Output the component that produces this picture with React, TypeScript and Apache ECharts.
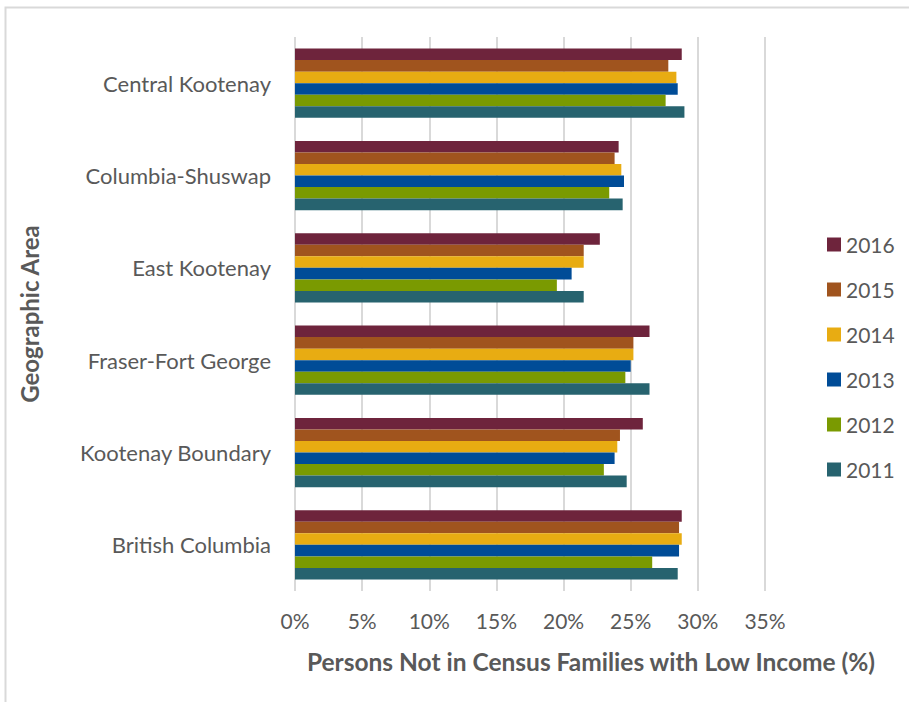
import React, { useEffect, useRef } from "react";
import * as echarts from "echarts";

const categories = [
  "Central Kootenay",
  "Columbia-Shuswap",
  "East Kootenay",
  "Fraser-Fort George",
  "Kootenay Boundary",
  "British Columbia",
];

const years = ["2016", "2015", "2014", "2013", "2012", "2011"];

const v2016 = [28.8, 24.1, 22.7, 26.4, 25.9, 28.8];
const v2015 = [27.8, 23.8, 21.5, 25.2, 24.2, 28.6];
const v2014 = [28.4, 24.3, 21.5, 25.2, 24.0, 28.8];
const v2013 = [28.5, 24.5, 20.6, 25.0, 23.8, 28.6];
const v2012 = [27.6, 23.4, 19.5, 24.6, 23.0, 26.6];
const v2011 = [29.0, 24.4, 21.5, 26.4, 24.7, 28.5];

const seriesValues = [v2016, v2015, v2014, v2013, v2012, v2011];
const colors = ["#6e243c", "#a0541e", "#e8ac12", "#004c97", "#7a9a01", "#27636f"];

const xTicks = { min: 0, max: 35, interval: 5 };

const FONT = "Lato, 'Open Sans', sans-serif";
const TEXT = "#595959";

export default function App() {
  const ref = useRef<HTMLDivElement>(null);
  useEffect(() => {
    if (!ref.current) return;
    const chart = echarts.init(ref.current, null, { renderer: "svg" });
    chart.setOption({
      animation: false,
      backgroundColor: "#ffffff",
      textStyle: { fontFamily: FONT, color: TEXT },
      graphic: [
        {
          type: "rect",
          shape: { x: 5.5, y: 7.5, width: 1000, height: 1000 },
          style: { fill: "none", stroke: "#d9d9d9", lineWidth: 2 },
          silent: true,
          z: -1,
        },
      ],
      grid: { left: 295, top: 37, right: 144, bottom: 111, containLabel: false },
      legend: {
        orient: "vertical",
        left: 822,
        top: 229,
        data: years,
        icon: "rect",
        itemWidth: 14,
        itemHeight: 14,
        itemGap: 24,
        textStyle: { fontFamily: FONT, fontSize: 21, color: TEXT, lineHeight: 21 },
      },
      xAxis: {
        type: "value",
        min: xTicks.min,
        max: xTicks.max,
        interval: xTicks.interval,
        axisLine: { show: false },
        axisTick: { show: false },
        splitLine: { show: true, lineStyle: { color: "#d9d9d9", width: 2 } },
        axisLabel: {
          formatter: "{value}%",
          fontFamily: FONT,
          fontSize: 21,
          color: TEXT,
          margin: 19,
        },
        name: "Persons Not in Census Families with Low Income (%)",
        nameLocation: "middle",
        nameGap: 58,
        nameTextStyle: {
          fontFamily: FONT,
          fontSize: 24.5,
          fontWeight: "bold",
          color: TEXT,
          padding: [0, 0, 0, 122],
        },
      },
      yAxis: {
        type: "category",
        data: categories,
        inverse: true,
        axisLine: { show: false },
        axisTick: { show: false },
        axisLabel: { fontFamily: FONT, fontSize: 22, color: TEXT, margin: 24 },
        name: "Geographic Area",
        nameLocation: "middle",
        nameRotate: 90,
        nameGap: 254,
        nameTextStyle: { fontFamily: FONT, fontSize: 24, fontWeight: "bold", color: TEXT },
      },
      series: years.map((y, i) => ({
        name: y,
        type: "bar",
        data: seriesValues[i],
        barGap: "0%",
        barCategoryGap: "25%",
        itemStyle: { color: colors[i] },
      })),
    });
    return () => chart.dispose();
  }, []);
  return (
    <div
      ref={ref}
      style={{ position: "absolute", left: 0, top: 0, width: 909, height: 702 }}
    />
  );
}
